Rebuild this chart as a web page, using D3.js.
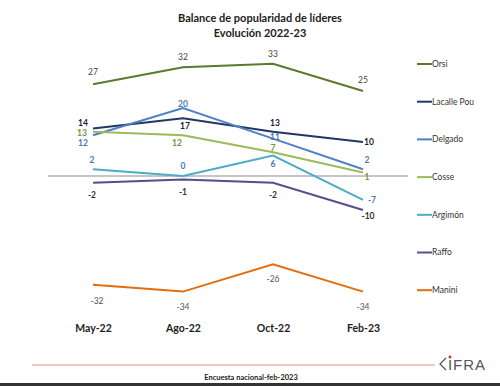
<!DOCTYPE html>
<html>
<head>
<meta charset="utf-8">
<script src="https://cdn.jsdelivr.net/npm/d3@7"></script>
<style>
  body { margin: 0; background: #fff; }
  svg { display: block; font-family: Lato, "Open Sans", sans-serif; }
</style>
</head>
<body>
<svg width="500" height="386"></svg>
<script>
// data
var months = ["May-22", "Ago-22", "Oct-22", "Feb-23"];
var names = ["Orsi", "Lacalle Pou", "Delgado", "Cosse", "Argimón", "Raffo", "Manini"];
var orsi = [27, 32, 33, 25];
var lacalle = [14, 17, 13, 10];
var delgado = [12, 20, 11, 2];
var cosse = [13, 12, 7, 1];
var argimon = [2, 0, 6, -7];
var raffo = [-2, -1, -2, -10];
var manini = [-32, -34, -26, -34];

var values = [orsi, lacalle, delgado, cosse, argimon, raffo, manini];
var colors = ["#5b7a2e", "#1f3864", "#4f7fc8", "#9bbb59", "#4bacc6", "#5e4a8c", "#e46c0a"];
var labelColors = ["#444", "#1a1a2e", "#4a76bd", "#76923c", "#4a76bd", "#333", "#555"];
var labelWeights = ["normal", "bold", "bold", "bold", "bold", "bold", "normal"];

// label offsets from each point [dx, dy]
var offsets = [
  [[0, -12], [0, -10], [0, -10], [0, -11]],
  [[-10, -5], [2, 8], [2, -9], [6, 0]],
  [[-10, 8], [0, -4], [2, -1.5], [4, -9]],
  [[-11, 1], [-6, 8], [0, -4], [4, 4]],
  [[-1, -9], [0, -10], [0, 8], [9, 0]],
  [[-1, 12], [0, 13], [0, 12], [5, 6]],
  [[4, 16], [0, 15], [0, 15], [0, 15]]
];

var svg = d3.select("svg");

var x = d3.scalePoint()
  .domain(months)
  .range([93, 363]);

var y = d3.scaleLinear()
  .domain([-34, 33])
  .range([291.6, 63.8]);

// title
svg.append("text")
  .attr("x", 260).attr("y", 22)
  .attr("text-anchor", "middle")
  .style("font-weight", "bold").style("font-size", "11px").style("fill", "#222")
  .text("Balance de popularidad de líderes");
svg.append("text")
  .attr("x", 260).attr("y", 37)
  .attr("text-anchor", "middle")
  .style("font-weight", "bold").style("font-size", "11px").style("fill", "#222")
  .text("Evolución 2022-23");

// zero line
svg.append("line")
  .attr("x1", 48).attr("x2", 408)
  .attr("y1", y(0)).attr("y2", y(0))
  .attr("stroke", "#b3b3b3").attr("stroke-width", 1.5);

var line = d3.line()
  .x(function(d, i) { return x(months[i]); })
  .y(function(d) { return y(d); });

values.forEach(function(vals, s) {
  svg.append("path")
    .attr("d", line(vals))
    .attr("fill", "none")
    .attr("stroke", colors[s])
    .attr("stroke-width", 2);
});

values.forEach(function(vals, s) {
  svg.selectAll(null)
    .data(vals)
    .enter()
    .append("text")
    .attr("x", function(d, i) { return x(months[i]) + offsets[s][i][0]; })
    .attr("y", function(d, i) { return y(d) + offsets[s][i][1]; })
    .attr("text-anchor", "middle")
    .attr("dominant-baseline", "central")
    .style("font-size", "8.5px")
    .style("font-weight", labelWeights[s])
    .style("fill", labelColors[s])
    .text(function(d) { return d; });
});

// x axis labels
svg.append("g")
  .attr("transform", "translate(0,328)")
  .call(d3.axisBottom(x).tickSize(0).tickPadding(0))
  .call(function(g) { g.select(".domain").remove(); })
  .selectAll("text")
  .attr("dy", "0.35em")
  .style("font-family", "Lato, sans-serif")
  .style("font-size", "10.5px")
  .style("font-weight", "bold")
  .style("fill", "#222");

// legend
var legend = svg.selectAll(".legend")
  .data(names)
  .enter()
  .append("g")
  .attr("transform", function(d, i) { return "translate(417," + (64 + i * 37.7) + ")"; });
legend.append("line")
  .attr("x1", 0).attr("x2", 15)
  .attr("stroke", function(d, i) { return colors[i]; })
  .attr("stroke-width", 2);
legend.append("text")
  .attr("x", 15).attr("dy", "0.35em")
  .style("font-size", "8.5px")
  .style("fill", "#333")
  .text(function(d) { return d; });

// footer
svg.append("line")
  .attr("x1", 32).attr("x2", 435)
  .attr("y1", 365).attr("y2", 365)
  .attr("stroke", "#ef8f80").attr("stroke-width", 1.2);
svg.append("text")
  .attr("x", 251).attr("y", 380)
  .attr("text-anchor", "middle")
  .style("font-size", "7.5px").style("font-weight", "bold").style("fill", "#222")
  .text("Encuesta nacional-feb-2023");

var logo = svg.append("g").attr("transform", "translate(439,356)");
logo.append("path")
  .attr("d", "M7,2 L1,8 L7,14")
  .attr("fill", "none").attr("stroke", "#555").attr("stroke-width", 1.3);
logo.append("circle").attr("cx", 11).attr("cy", 1).attr("r", 1.4).attr("fill", "#e02020");
logo.append("text")
  .attr("x", 9).attr("y", 14)
  .style("font-size", "15px").style("fill", "#555")
  .style("font-family", "Liberation Sans Narrow, sans-serif")
  .attr("textLength", 37)
  .text("IFRA");

svg.append("rect")
  .attr("x", 0).attr("y", 383).attr("width", 500).attr("height", 3)
  .attr("fill", "#333");
</script>
</body>
</html>
